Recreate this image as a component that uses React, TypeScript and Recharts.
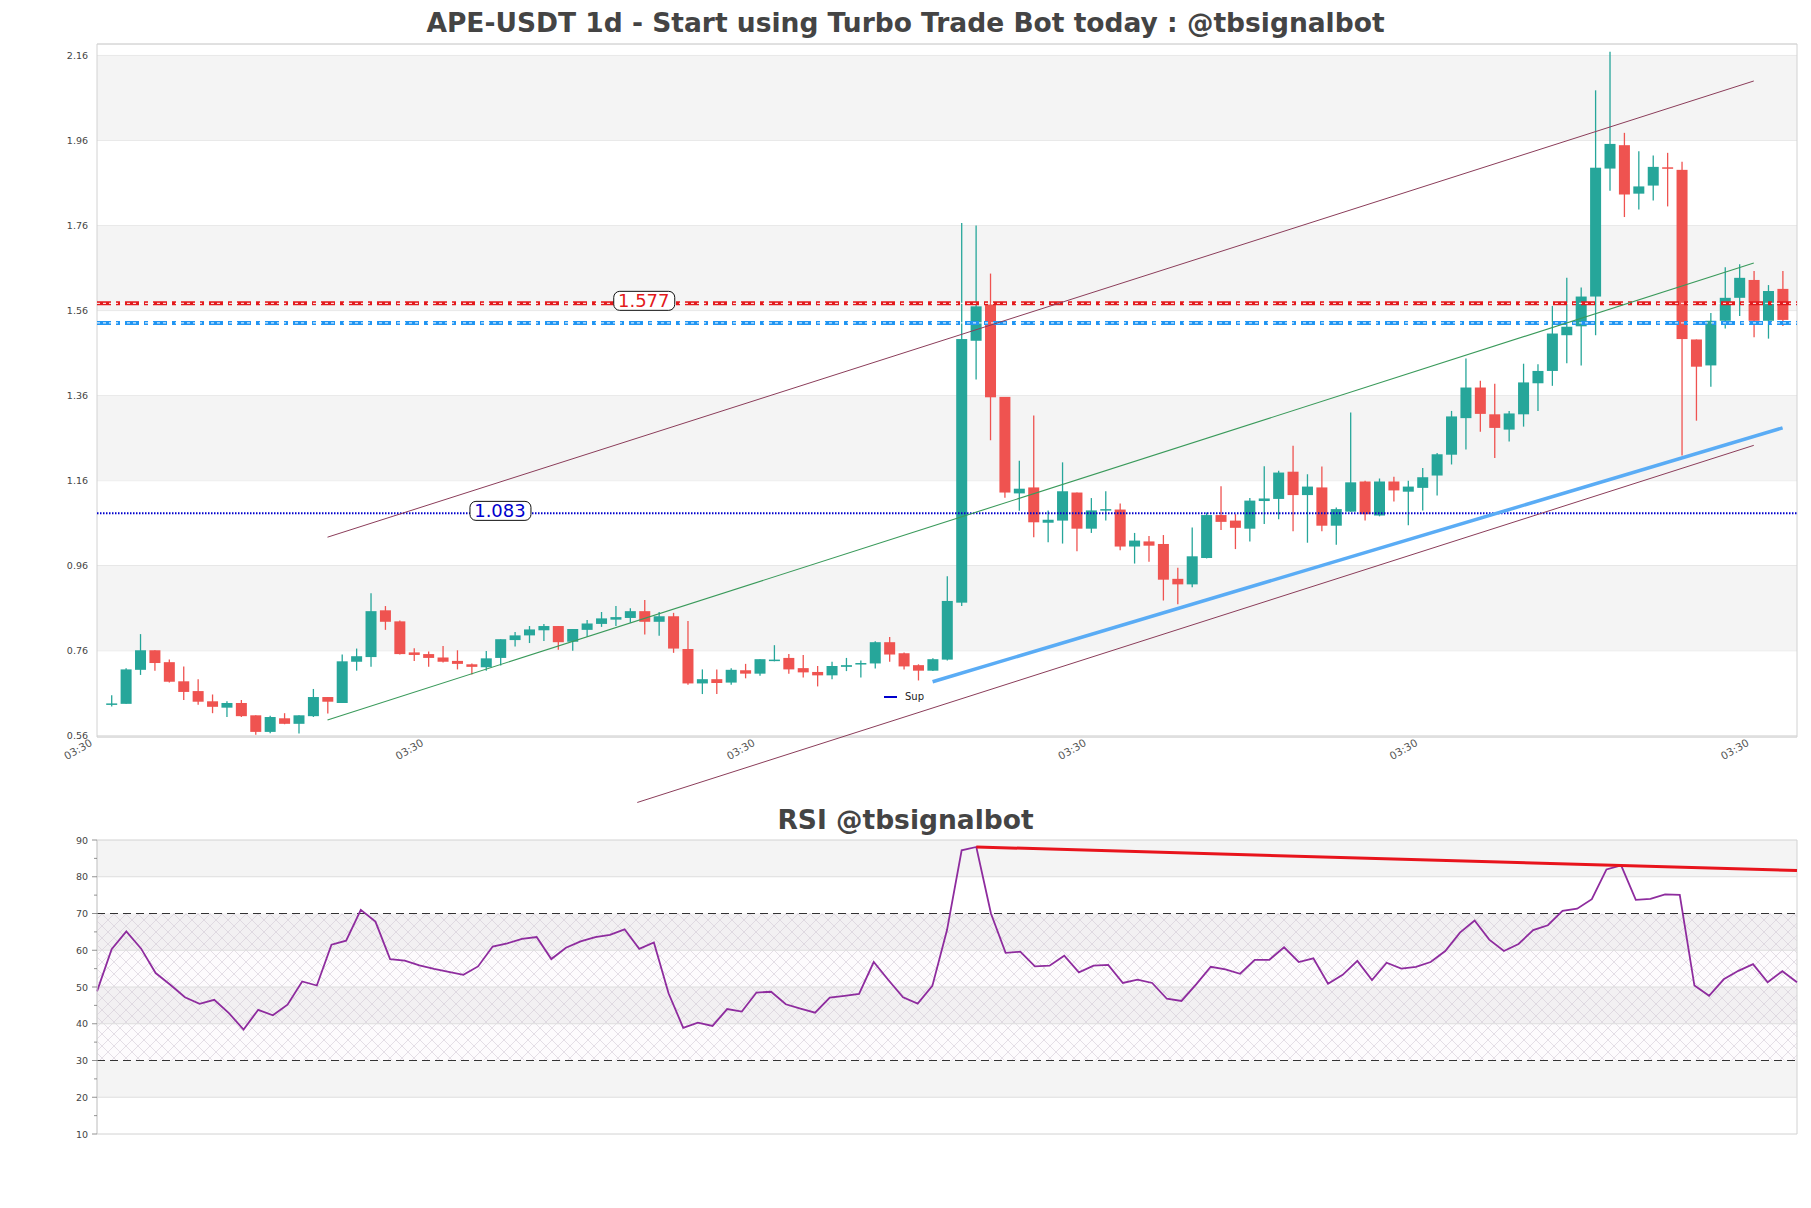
import React from 'react'
import {
  ComposedChart,
  Bar,
  Line,
  XAxis,
  YAxis,
  CartesianGrid,
  ReferenceArea,
  ReferenceLine,
  ReferenceDot,
} from 'recharts'

// daily candles (index 0 = first candle)
const opens = [
  0.633, 0.635, 0.715, 0.761, 0.733, 0.688, 0.665, 0.641, 0.626, 0.637,
  0.608, 0.569, 0.601, 0.588, 0.606, 0.651, 0.637, 0.734, 0.745, 0.855,
  0.829, 0.756, 0.752, 0.744, 0.736, 0.728, 0.721, 0.743, 0.785, 0.796,
  0.808, 0.818, 0.781, 0.809, 0.823, 0.833, 0.837, 0.853, 0.828, 0.841,
  0.764, 0.683, 0.693, 0.685, 0.714, 0.706, 0.736, 0.743, 0.719, 0.71,
  0.702, 0.722, 0.728, 0.73, 0.78, 0.754, 0.726, 0.713, 0.739, 0.873,
  1.489, 1.574, 1.357, 1.13, 1.144, 1.061, 1.066, 1.132, 1.047, 1.091,
  1.092, 1.005, 1.017, 1.011, 0.929, 0.916, 0.978, 1.079, 1.066, 1.047,
  1.112, 1.117, 1.181, 1.126, 1.144, 1.054, 1.087, 1.158, 1.078, 1.158,
  1.134, 1.143, 1.172, 1.221, 1.307, 1.379, 1.316, 1.28, 1.316, 1.389,
  1.418, 1.502, 1.523, 1.593, 1.894, 1.949, 1.835, 1.854, 1.897, 1.891,
  1.492, 1.431, 1.536, 1.59, 1.632, 1.536, 1.611,
]
const highs = [
  0.655, 0.719, 0.799, 0.761, 0.739, 0.723, 0.693, 0.657, 0.641, 0.644,
  0.608, 0.607, 0.613, 0.608, 0.67, 0.651, 0.751, 0.765, 0.895, 0.865,
  0.831, 0.766, 0.758, 0.771, 0.761, 0.73, 0.759, 0.787, 0.804, 0.818,
  0.823, 0.818, 0.811, 0.832, 0.851, 0.865, 0.86, 0.879, 0.851, 0.849,
  0.83, 0.716, 0.716, 0.719, 0.729, 0.74, 0.773, 0.752, 0.75, 0.724,
  0.734, 0.743, 0.737, 0.782, 0.792, 0.756, 0.728, 0.742, 0.935, 1.766,
  1.76, 1.647, 1.357, 1.207, 1.313, 1.09, 1.203, 1.132, 1.119, 1.135,
  1.106, 1.037, 1.03, 1.032, 0.955, 1.05, 1.085, 1.147, 1.081, 1.119,
  1.194, 1.183, 1.242, 1.175, 1.193, 1.097, 1.32, 1.16, 1.165, 1.169,
  1.16, 1.19, 1.225, 1.324, 1.447, 1.395, 1.388, 1.324, 1.435, 1.434,
  1.571, 1.637, 1.614, 2.078, 2.169, 1.978, 1.935, 1.925, 1.931, 1.91,
  1.492, 1.554, 1.662, 1.669, 1.653, 1.62, 1.653,
]
const lows = [
  0.629, 0.635, 0.703, 0.713, 0.685, 0.644, 0.633, 0.613, 0.604, 0.604,
  0.562, 0.566, 0.587, 0.565, 0.604, 0.612, 0.637, 0.713, 0.722, 0.809,
  0.751, 0.736, 0.722, 0.732, 0.716, 0.704, 0.713, 0.725, 0.77, 0.778,
  0.783, 0.762, 0.76, 0.793, 0.816, 0.818, 0.826, 0.798, 0.795, 0.755,
  0.68, 0.658, 0.658, 0.68, 0.695, 0.701, 0.735, 0.706, 0.697, 0.676,
  0.693, 0.712, 0.697, 0.718, 0.734, 0.716, 0.69, 0.712, 0.737, 0.865,
  1.398, 1.255, 1.12, 1.089, 1.027, 1.015, 1.012, 0.994, 1.037, 1.066,
  0.996, 0.965, 0.969, 0.878, 0.869, 0.909, 0.977, 1.044, 0.999, 1.017,
  1.058, 1.069, 1.041, 1.014, 1.041, 1.009, 1.087, 1.066, 1.076, 1.111,
  1.055, 1.09, 1.125, 1.198, 1.233, 1.275, 1.213, 1.252, 1.287, 1.324,
  1.383, 1.436, 1.431, 1.502, 1.842, 1.78, 1.798, 1.819, 1.805, 1.219,
  1.301, 1.381, 1.518, 1.547, 1.497, 1.494, 1.524,
]
const closes = [
  0.636, 0.716, 0.761, 0.731, 0.687, 0.663, 0.64, 0.628, 0.637, 0.606,
  0.569, 0.604, 0.588, 0.608, 0.651, 0.64, 0.735, 0.747, 0.853, 0.828,
  0.752, 0.75, 0.743, 0.734, 0.729, 0.722, 0.742, 0.787, 0.796, 0.81,
  0.818, 0.78, 0.811, 0.824, 0.836, 0.839, 0.853, 0.828, 0.841, 0.765,
  0.683, 0.693, 0.684, 0.715, 0.706, 0.74, 0.739, 0.716, 0.709, 0.702,
  0.724, 0.726, 0.731, 0.78, 0.751, 0.723, 0.713, 0.74, 0.877, 1.493,
  1.57, 1.356, 1.132, 1.141, 1.062, 1.068, 1.135, 1.047, 1.09, 1.093,
  1.005, 1.019, 1.007, 0.927, 0.916, 0.982, 1.079, 1.063, 1.049, 1.113,
  1.118, 1.179, 1.126, 1.146, 1.054, 1.093, 1.156, 1.081, 1.158, 1.137,
  1.146, 1.168, 1.222, 1.311, 1.379, 1.317, 1.284, 1.318, 1.391, 1.418,
  1.506, 1.522, 1.593, 1.896, 1.952, 1.833, 1.852, 1.898, 1.895, 1.493,
  1.428, 1.536, 1.59, 1.637, 1.536, 1.606, 1.538,
]

const rsiValues = [
  48.8, 60.3, 65.1, 60.5, 53.8, 50.6, 47.2, 45.4, 46.5, 42.9,
  38.4, 43.8, 42.3, 45.2, 51.5, 50.4, 61.5, 62.6, 71.0, 67.8,
  57.6, 57.2, 55.9, 54.9, 54.1, 53.3, 55.6, 61.0, 61.9, 63.1,
  63.6, 57.6, 60.7, 62.4, 63.6, 64.2, 65.7, 60.4, 62.1, 48.3,
  38.9, 40.3, 39.4, 44.0, 43.3, 48.5, 48.7, 45.3, 44.1, 43.0,
  47.1, 47.6, 48.1, 56.8, 51.9, 47.2, 45.5, 50.3, 65.5, 87.2,
  88.1, 70.0, 59.3, 59.6, 55.6, 55.8, 58.5, 54.0, 55.8, 56.0,
  51.1, 52.0, 51.1, 46.8, 46.2, 50.7, 55.5, 54.8, 53.6, 57.4,
  57.4, 60.8, 56.8, 57.8, 50.9, 53.3, 57.1, 51.9, 56.6, 55.0,
  55.5, 56.8, 59.8, 64.8, 68.1, 62.9, 59.8, 61.7, 65.5, 66.8,
  70.7, 71.3, 73.9, 82.0, 83.1, 73.7, 74.0, 75.2, 75.1, 50.4,
  47.6, 52.1, 54.4, 56.2, 51.3, 54.3, 51.3,
]

const priceTicks = [0.56, 0.76, 0.96, 1.16, 1.36, 1.56, 1.76, 1.96, 2.16]
const priceBands = [[0.76, 0.96], [1.16, 1.36], [1.56, 1.76], [1.96, 2.16]]
const dateTicks = [-1, 22, 45, 68, 91, 114]
const dateTickLabel = '03:30'
const rsiTicks = [10, 15, 20, 25, 30, 35, 40, 45, 50, 55, 60, 65, 70, 75, 80, 85, 90]
const rsiGrid = [20, 40, 50, 60, 80]
const rsiBands = [[20, 30], [40, 50], [60, 70], [80, 90]]

const resistLevel = 1.577
const resistLevel2 = 1.531
const supportLevel = 1.083
const upperChannel = [{ x: 15, y: 1.027 }, { x: 114, y: 2.1 }]
const midChannel = [{ x: 15, y: 0.597 }, { x: 114, y: 1.672 }]
const lowerChannel = [{ x: 36.5, y: 0.403 }, { x: 114, y: 1.243 }]
const supportTrend = [{ x: 57, y: 0.687 }, { x: 116, y: 1.284 }]
const rsiTrend = [{ x: 60, y: 88.1 }, { x: 116, y: 81.7 }]

const FONT = '"DejaVu Sans", Verdana, sans-serif'
const UP = '#26a69a'
const DOWN = '#ef5350'
const BAND = '#f4f4f4'
const GRID = '#dedede'

const candles = opens.map((open, i) => ({ x: i, open, high: highs[i], low: lows[i], close: closes[i] }))
const rsiData = rsiValues.map((rsi, i) => ({ x: i, rsi }))

function Candle(props: any) {
  const { x, y, width, height, payload } = props
  if (x == null || y == null || !payload) return null
  const top = Math.min(y, y + height)
  const span = Math.abs(height)
  const { open, close, high, low } = payload
  const k = span / (high - low || 1)
  const yo = top + (high - open) * k
  const yc = top + (high - close) * k
  const color = close >= open ? UP : DOWN
  const cx = x + width / 2
  return (
    <g>
      <line x1={cx} x2={cx} y1={top} y2={top + span} stroke={color} strokeWidth={1.3} />
      <rect x={x} y={Math.min(yo, yc)} width={width} height={Math.max(Math.abs(yo - yc), 1.5)} fill={color} />
    </g>
  )
}

function PriceTick({ x, y, payload }: any) {
  return (
    <text x={x - 9} y={y} dy={3.5} textAnchor="end" fontSize={9.5} fill="#444" fontFamily={FONT}>
      {Number(payload.value).toFixed(2)}
    </text>
  )
}

function DateTick({ x, y }: any) {
  const tx = x - 4
  const ty = y + 8
  return (
    <text x={tx} y={ty} transform={`rotate(-30 ${tx} ${ty})`} textAnchor="end" fontSize={10.5} fill="#555" fontFamily={FONT}>
      {dateTickLabel}
    </text>
  )
}

function RsiTick({ x, y, payload }: any) {
  const major = payload.value % 10 === 0
  return (
    <g>
      <line x1={x - (major ? 5 : 3)} x2={x} y1={y} y2={y} stroke="#777" strokeWidth={0.8} />
      {major && (
        <text x={x - 9} y={y} dy={3.5} textAnchor="end" fontSize={9.5} fill="#444" fontFamily={FONT}>
          {payload.value}
        </text>
      )}
    </g>
  )
}

function LevelTag({ cx, cy, text, color }: any) {
  return (
    <g>
      <rect x={cx - 30} y={cy - 12} width={61} height={19} rx={6} fill="#fff" stroke="#111" strokeWidth={1} />
      <text x={cx} y={cy + 4} textAnchor="middle" fontSize={18} fill={color} fontFamily={FONT}>
        {text}
      </text>
    </g>
  )
}

const titleStyle: React.CSSProperties = {
  position: 'absolute',
  left: 0,
  width: 1811,
  textAlign: 'center',
  fontFamily: FONT,
  fontWeight: 'bold',
  fontSize: 26.5,
  color: '#444',
  lineHeight: '30px',
}

export default function App() {
  return (
    <div style={{ position: 'absolute', left: 0, top: 0, width: 1811, height: 1208, background: '#fff', fontFamily: FONT }}>
      <div style={{ position: 'absolute', left: 0, top: 0 }}>
        <ComposedChart width={1811} height={820} data={candles} margin={{ top: 44, right: 14, bottom: 43, left: 0 }}>
          {priceBands.map(([a, b]) => (
            <ReferenceArea key={a} y1={a} y2={b} fill={BAND} fillOpacity={1} stroke="none" ifOverflow="hidden" />
          ))}
          <CartesianGrid vertical={false} stroke={GRID} strokeWidth={1} />
          <XAxis
            dataKey="x"
            type="number"
            domain={[-1, 117]}
            ticks={dateTicks}
            interval={0}
            allowDataOverflow
            tick={<DateTick />}
            tickLine={false}
            axisLine={false}
            tickSize={0}
            tickMargin={0}
            height={40}
          />
          <YAxis
            type="number"
            domain={[0.557, 2.187]}
            ticks={priceTicks}
            interval={0}
            allowDataOverflow
            width={97}
            tick={<PriceTick />}
            tickLine={false}
            axisLine={false}
            tickSize={0}
            tickMargin={0}
          />
          <ReferenceArea x1={-1} x2={117} y1={0.557} y2={2.187} fill="none" stroke="#d2d2d2" strokeWidth={1} />
          <ReferenceLine y={resistLevel} stroke="#e31a1c" strokeWidth={4} strokeDasharray="14 5 4 5" />
          <ReferenceLine y={resistLevel} stroke="#fff" strokeWidth={1} strokeDasharray="3 3" />
          <ReferenceLine y={resistLevel2} stroke="#2196f3" strokeWidth={4} strokeDasharray="14 5 4 5" />
          <ReferenceLine y={resistLevel2} stroke="#fff" strokeWidth={1} strokeDasharray="3 3" />
          <ReferenceLine y={supportLevel} stroke="#0000cd" strokeWidth={2} strokeDasharray="1.5 1.5" />
          <ReferenceLine segment={upperChannel} stroke="#8b3d5a" strokeWidth={1} ifOverflow="visible" />
          <ReferenceLine segment={midChannel} stroke="#3a9a5b" strokeWidth={1.1} ifOverflow="visible" />
          <ReferenceLine segment={lowerChannel} stroke="#8b3d5a" strokeWidth={1} ifOverflow="visible" />
          <ReferenceLine segment={supportTrend} stroke="#5aacf5" strokeWidth={3.5} ifOverflow="visible" />
          <Bar dataKey={(d: any) => [d.low, d.high]} shape={<Candle />} barSize={11} isAnimationActive={false} />
          <ReferenceDot x={36.95} y={resistLevel} r={0} shape={(p: any) => <LevelTag {...p} text="1.577" color="#e31a1c" />} />
          <ReferenceDot x={26.97} y={supportLevel} r={0} shape={(p: any) => <LevelTag {...p} text="1.083" color="#0000cd" />} />
        </ComposedChart>
      </div>

      <div style={{ position: 'absolute', left: 0, top: 800 }}>
        <ComposedChart width={1811} height={344} data={rsiData} margin={{ top: 40, right: 14, bottom: 10, left: 0 }}>
          <defs>
            <pattern id="rsiHatch" width={12} height={12} patternUnits="userSpaceOnUse">
              <rect width={12} height={12} fill="#8e2c9e" fillOpacity={0.02} />
              <path d="M0,0 L12,12 M12,0 L0,12" stroke="#c9c0cf" strokeWidth={0.7} strokeOpacity={0.7} />
            </pattern>
          </defs>
          {rsiBands.map(([a, b]) => (
            <ReferenceArea key={a} y1={a} y2={b} fill={BAND} fillOpacity={1} stroke="none" ifOverflow="hidden" />
          ))}
          {rsiGrid.map((v) => (
            <ReferenceLine key={v} y={v} stroke={GRID} strokeWidth={1} />
          ))}
          <XAxis dataKey="x" type="number" domain={[0, 116]} hide />
          <YAxis
            type="number"
            domain={[10, 90]}
            ticks={rsiTicks}
            interval={0}
            allowDataOverflow
            width={97}
            tick={<RsiTick />}
            tickLine={false}
            axisLine={{ stroke: '#d2d2d2' }}
            tickSize={0}
            tickMargin={0}
          />
          <ReferenceArea y1={30} y2={70} fill="url(#rsiHatch)" fillOpacity={1} stroke="none" />
          <ReferenceArea x1={0} x2={116} y1={10} y2={90} fill="none" stroke="#d2d2d2" strokeWidth={1} />
          <ReferenceLine y={70} stroke="#333" strokeWidth={1.2} strokeDasharray="8 5" />
          <ReferenceLine y={30} stroke="#333" strokeWidth={1.2} strokeDasharray="8 5" />
          <Line dataKey="rsi" stroke="#8e2c9e" strokeWidth={1.8} dot={false} isAnimationActive={false} />
          <ReferenceLine segment={rsiTrend} stroke="#e8141c" strokeWidth={3} ifOverflow="visible" />
        </ComposedChart>
      </div>

      <div style={{ ...titleStyle, top: 8 }}>APE-USDT 1d - Start using Turbo Trade Bot today : @tbsignalbot</div>
      <div style={{ ...titleStyle, top: 805 }}>RSI @tbsignalbot</div>

      <div style={{ position: 'absolute', left: 884, top: 691, display: 'flex', alignItems: 'center', fontSize: 10, color: '#222' }}>
        <span style={{ display: 'inline-block', width: 13, height: 2, background: '#0000cc', marginRight: 8 }} />
        Sup
      </div>
    </div>
  )
}
